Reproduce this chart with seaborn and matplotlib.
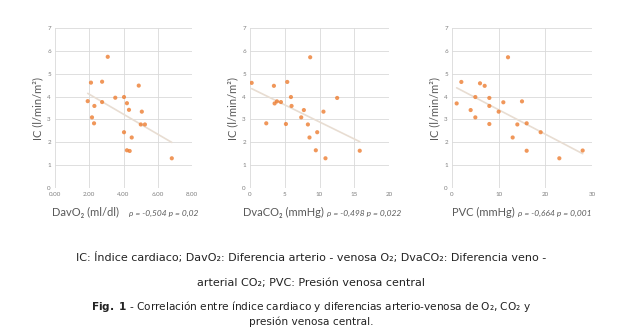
import matplotlib
matplotlib.use("Agg")
import matplotlib.pyplot as plt
import seaborn as sns
import numpy as np
import pandas as pd

sns.set_theme(style="white")
plt.rcParams['font.family'] = ['Lato', 'DejaVu Sans']

# Data
ic_1 = [3.80, 4.61, 4.65, 5.74, 3.59, 3.09, 2.83, 3.76, 3.95, 3.98, 3.71, 3.42, 2.44, 4.48, 3.34, 2.78, 2.78, 2.21, 1.65, 1.62, 1.30]
davo2 = [1.91, 2.10, 2.75, 3.08, 2.30, 2.16, 2.28, 2.75, 3.52, 4.03, 4.20, 4.32, 4.03, 4.89, 5.07, 5.01, 5.25, 4.48, 4.20, 4.36, 6.82]

ic_2 = [4.60, 2.83, 4.47, 3.70, 3.79, 3.76, 4.64, 2.80, 3.98, 3.59, 3.09, 3.41, 5.72, 2.78, 2.21, 2.44, 1.65, 3.34, 1.30, 3.94, 1.63]
dvaco2 = [0.24, 2.34, 3.44, 3.54, 3.88, 4.45, 5.36, 5.17, 5.89, 5.98, 7.37, 7.75, 8.66, 8.33, 8.56, 9.67, 9.47, 10.57, 10.86, 12.54, 15.79]

ic_3 = [3.70, 4.64, 3.41, 3.98, 3.09, 4.58, 4.47, 3.94, 3.59, 2.80, 3.34, 3.75, 5.72, 2.21, 2.78, 3.79, 2.83, 1.63, 2.44, 1.30, 1.64]
pvc = [1, 2, 4, 5, 5, 6, 7, 8, 8, 8, 10, 11, 12, 13, 14, 15, 16, 16, 19, 23, 28]

x_labels = ["DavO₂ (ml/dl)", "DvaCO₂ (mmHg)", "PVC (mmHg)"]
stats = ["ρ = -0,504 p = 0,02", "ρ = -0,498 p = 0,022", "ρ = -0,664 p = 0,001"]
x_ticks = [[0, 2, 4, 6, 8], [0, 5, 10, 15, 20], [0, 10, 20, 30]]
x_ticklabels = [["0.00", "2.00", "4.00", "6.00", "8.00"], ["0", "5", "10", "15", "20"], ["0", "10", "20", "30"]]
y_ticks = [0, 1, 2, 3, 4, 5, 6, 7]

datasets = [(davo2, ic_1), (dvaco2, ic_2), (pvc, ic_3)]

W, H = 622, 333
fig = plt.figure(figsize=(W / 100, H / 100), dpi=100)

boxes = [(55, 192), (250, 389), (452, 592)]
top_px, bot_px = 28, 188
xlabel_start = [52, 243, 452]
stat_gap = [10, 3, 3]

orange = "#ED7D31"
grid_c = "#d9d9d9"
tick_c = "#7f7f7f"
label_c = "#595959"

renderer = fig.canvas.get_renderer()

for i, ((xv, yv), (l, r)) in enumerate(zip(datasets, boxes)):
    ax = fig.add_axes([l / W, 1 - bot_px / H, (r - l) / W, (bot_px - top_px) / H])
    df = pd.DataFrame({"x": xv, "y": yv})
    sns.regplot(data=df, x="x", y="y", ax=ax, ci=None, truncate=True,
                scatter_kws=dict(s=9, color=orange, edgecolor="none", zorder=3),
                line_kws=dict(color="#e8ddd2", lw=1.2, zorder=2))
    ax.set_xlim(x_ticks[i][0], x_ticks[i][-1])
    ax.set_ylim(0, 7)
    ax.set_xticks(x_ticks[i])
    ax.set_xticklabels(x_ticklabels[i])
    ax.set_yticks(y_ticks)
    ax.tick_params(axis="both", labelsize=4.5, colors=tick_c, length=0, pad=3)
    ax.grid(True, color=grid_c, lw=0.6)
    for s in ax.spines.values():
        s.set_visible(False)
    ax.set_xlabel("")
    ax.set_ylabel("IC (l/min/m²)", fontsize=8, color=label_c, labelpad=3)
    t = fig.text(xlabel_start[i] / W, 1 - 212 / H, x_labels[i], fontsize=8, color=label_c,
                 ha="left", va="center")
    bb = t.get_window_extent(renderer)
    fig.text((bb.x1 + stat_gap[i]) / W, 1 - 213 / H, stats[i], fontsize=6, color=label_c,
             ha="left", va="center", style="italic")

cap_font = ['DejaVu Sans']
fig.text(0.5, 1 - 258 / H, "IC: Índice cardiaco; DavO₂: Diferencia arterio - venosa O₂; DvaCO₂: Diferencia veno -",
         ha="center", va="center", fontsize=8, color="#222222", family=cap_font)
fig.text(0.5, 1 - 283 / H, "arterial CO₂; PVC: Presión venosa central",
         ha="center", va="center", fontsize=8, color="#222222", family=cap_font)
fig.text(0.5, 1 - 306 / H, r"$\bf{Fig.\ 1}$ - Correlación entre índice cardiaco y diferencias arterio-venosa de O₂, CO₂ y",
         ha="center", va="center", fontsize=7.6, color="#222222", family=cap_font)
fig.text(0.5, 1 - 322 / H, "presión venosa central.",
         ha="center", va="center", fontsize=7.6, color="#222222", family=cap_font)

fig.savefig("out.png", dpi=100, facecolor="white")
